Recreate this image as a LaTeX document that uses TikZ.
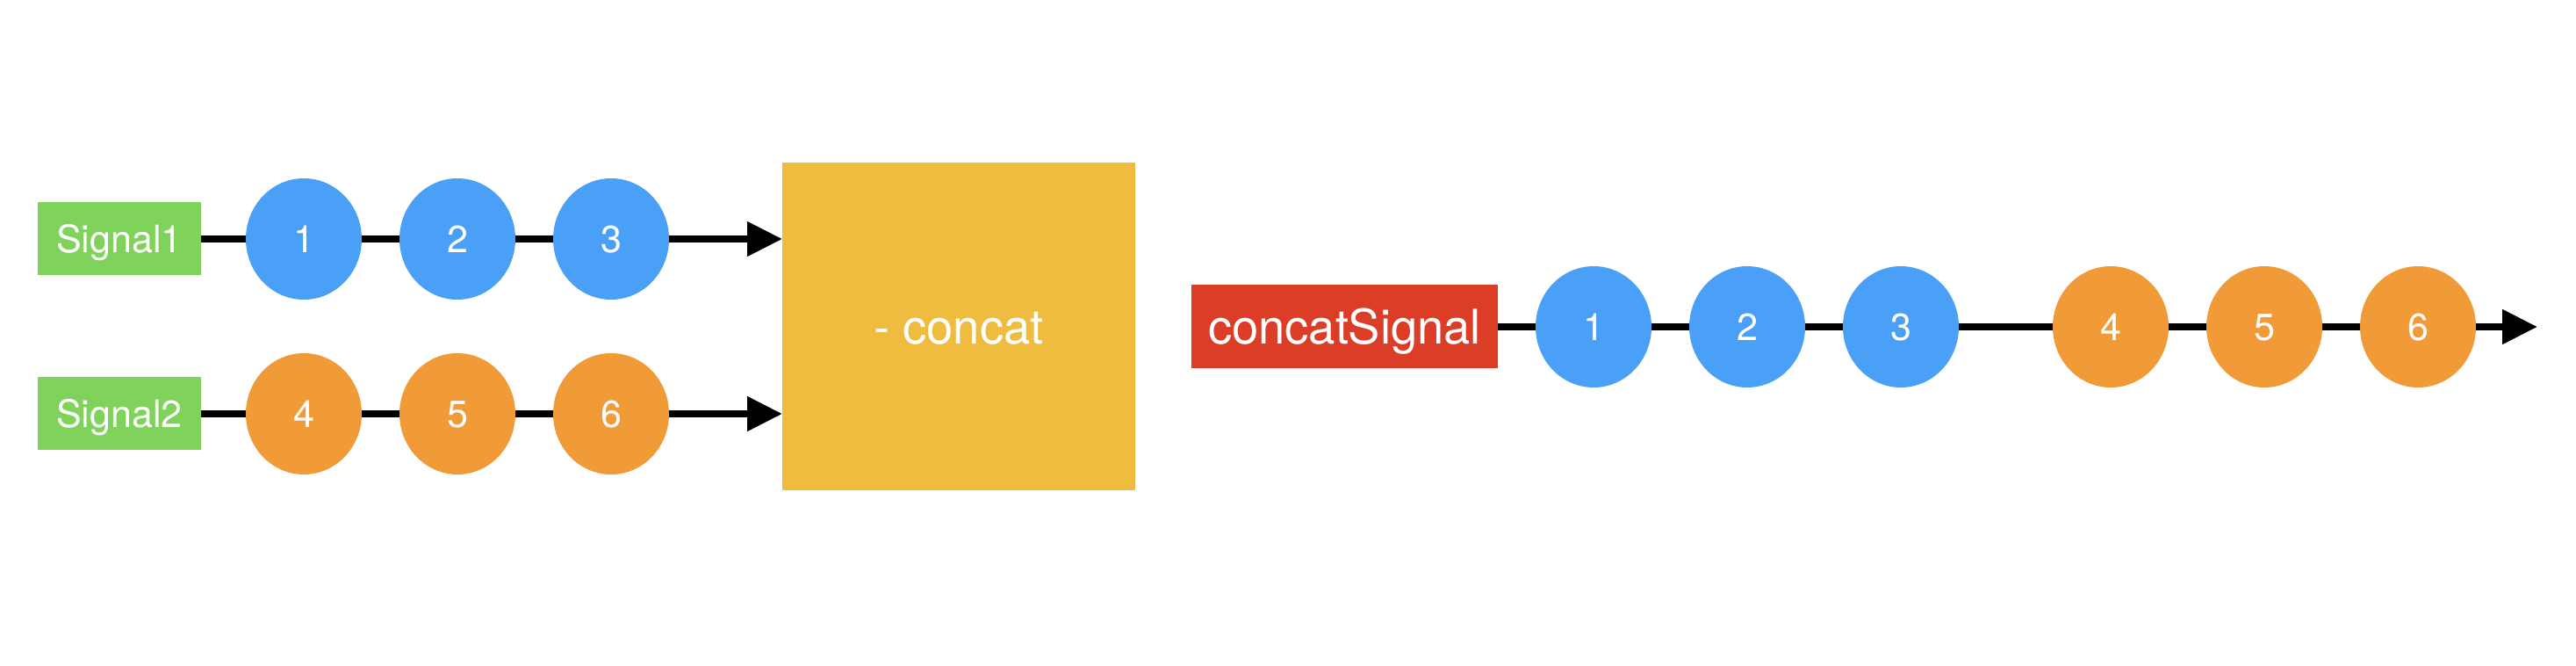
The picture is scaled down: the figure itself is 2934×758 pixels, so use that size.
\documentclass[tikz,border=0pt]{standalone}
\usepackage{fontspec}
\setmainfont{TeX Gyre Heros}
\usetikzlibrary{shapes.geometric,arrows.meta}
\definecolor{sgreen}{HTML}{7FD35A}
\definecolor{sblue}{HTML}{4AA0F7}
\definecolor{sorange}{HTML}{F19A38}
\definecolor{syellow}{HTML}{EFBC40}
\definecolor{sred}{HTML}{DC3D27}
\tikzset{
  smallfont/.style={font=\fontsize{10.75}{12}\selectfont, text height=7.72pt, text depth=0pt},
  bigfont/.style={font=\fontsize{13.6}{16}\selectfont, text height=9.76pt, text depth=0pt},
  lbl/.style={fill=sgreen, text=white, minimum width=46.5pt, minimum height=20.75pt, inner sep=0pt, outer sep=0pt, smallfont},
  ev/.style={ellipse, minimum width=33pt, minimum height=34.5pt, inner sep=0pt, outer sep=0pt, text=white, smallfont},
  bev/.style={ev, fill=sblue},
  oev/.style={ev, fill=sorange},
  wire/.style={line width=2pt, black},
  arr/.style={wire, -{Triangle[length=10pt,width=9.5pt]}}
}
\begin{document}
\begin{tikzpicture}[x={(0.25pt,0)}, y={(0,-0.25pt)}]
\fill[white] (0,0) rectangle (2934,758);
\useasboundingbox (0,0) rectangle (2934,758);

% concat operator
\node[fill=syellow, minimum width=100.5pt, minimum height=93.25pt, inner sep=0pt, outer sep=0pt, text=white, bigfont] (op) at (1092,371.5) {- concat};

% Signal1 row
\node[lbl] (s1) at (136,272) {Signal1};
\node[bev] (a1) at (346,272) {1};
\node[bev] (a2) at (521,272) {2};
\node[bev] (a3) at (696,272) {3};
\draw[wire] (s1) -- (a1);
\draw[wire] (a1) -- (a2);
\draw[wire] (a2) -- (a3);
\draw[arr] (a3) -- (op.west |- a3);

% Signal2 row
\node[lbl] (s2) at (136,471) {Signal2};
\node[oev] (b4) at (346,471) {4};
\node[oev] (b5) at (521,471) {5};
\node[oev] (b6) at (696,471) {6};
\draw[wire] (s2) -- (b4);
\draw[wire] (b4) -- (b5);
\draw[wire] (b5) -- (b6);
\draw[arr] (b6) -- (op.west |- b6);

% output row
\node[fill=sred, minimum width=87.25pt, minimum height=23.75pt, inner sep=0pt, outer sep=0pt, text=white, bigfont] (cs) at (1531.5,372) {concatSignal};
\node[bev] (c1) at (1815,372) {1};
\node[bev] (c2) at (1990,372) {2};
\node[bev] (c3) at (2165,372) {3};
\node[oev] (c4) at (2404,372) {4};
\node[oev] (c5) at (2579,372) {5};
\node[oev] (c6) at (2754,372) {6};
\coordinate (cend) at (2890,372);
\draw[wire] (cs) -- (c1);
\draw[wire] (c1) -- (c2);
\draw[wire] (c2) -- (c3);
\draw[wire] (c3) -- (c4);
\draw[wire] (c4) -- (c5);
\draw[wire] (c5) -- (c6);
\draw[arr] (c6) -- (cend);
\end{tikzpicture}
\end{document}
